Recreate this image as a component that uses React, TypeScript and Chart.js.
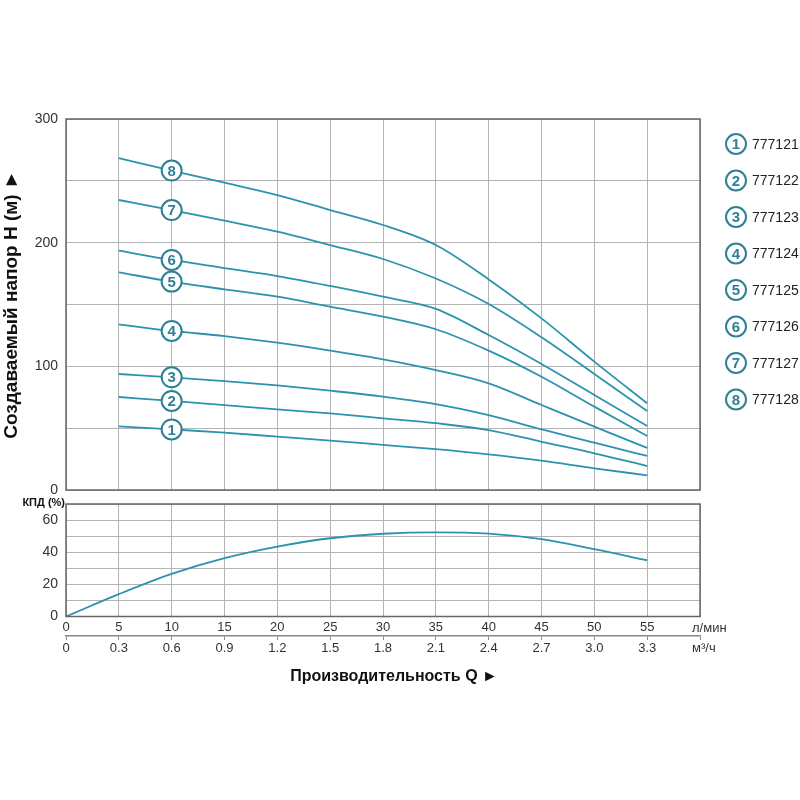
import React, { useEffect, useRef } from "react";
import { Chart, registerables } from "chart.js";

Chart.register(...registerables);

// ---- data ----
const flowLpm = [5, 10, 15, 20, 25, 30, 35, 40, 45, 50, 55];
const head777121 = [51.5, 49, 46.4, 43.1, 40, 36.5, 33, 28.8, 23.7, 17.5, 11.9];
const head777122 = [75.2, 72, 68.7, 65.2, 62, 58, 54, 48.5, 39, 29.7, 19.4];
const head777123 = [93.8, 91.1, 88.1, 84.6, 80.3, 75.5, 69.5, 60.6, 49, 38.3, 27.5];
const head777124 = [134, 128.6, 124.5, 119.1, 112.7, 105.7, 97, 86.3, 68.7, 51.2, 34];
const head777125 = [176, 168.5, 162.3, 156.3, 148.2, 140.2, 130, 112.7, 91.6, 67.4, 43.7];
const head777126 = [193.5, 186, 179.5, 173, 165, 156.3, 146.5, 125.3, 101.9, 76.8, 51.7];
const head777127 = [234.5, 226.4, 217.8, 208.9, 198.1, 186.8, 171, 150.4, 123.5, 93.8, 63.9];
const head777128 = [268.3, 258.3, 248.5, 238.5, 226.4, 214.3, 198.1, 170.3, 138.8, 103.8, 70.1];
const models = ["777121", "777122", "777123", "777124", "777125", "777126", "777127", "777128"];
const curveNumbers = ["1", "2", "3", "4", "5", "6", "7", "8"];
const heads = [head777121, head777122, head777123, head777124, head777125, head777126, head777127, head777128];
const markerFlow = 10;

const effFlow = [0, 5, 10, 15, 20, 25, 30, 35, 40, 45, 50, 55];
const efficiency = [0, 13.9, 26.5, 36.3, 43.5, 48.7, 51.5, 52.4, 51.6, 48.1, 41.9, 35];

const yTitle = "Создаваемый напор H (м) ►";
const xTitle = "Производительность Q ►";
const effTitle = "КПД (%)";
const unitLpm = "л/мин";
const unitM3h = "м³/ч";

// ---- styles ----
const FONT = "'Liberation Sans', Arial, sans-serif";
const LINE = "#2b93ad";
const MARK = "#2e8097";
const GRID = "#b4b4b4";
const BOX = "#666666";
const TXT = "#333333";

const boxPlugin = {
  id: "box",
  afterDraw(chart: any) {
    const { ctx, chartArea: a } = chart;
    ctx.save();
    ctx.strokeStyle = BOX;
    ctx.lineWidth = 1.5;
    ctx.strokeRect(a.left, a.top, a.right - a.left, a.bottom - a.top);
    ctx.restore();
  },
};

function drawCircleNum(ctx: CanvasRenderingContext2D, x: number, y: number, t: string) {
  ctx.beginPath();
  ctx.arc(x, y, 10, 0, Math.PI * 2);
  ctx.fillStyle = "#ffffff";
  ctx.fill();
  ctx.lineWidth = 2;
  ctx.strokeStyle = MARK;
  ctx.stroke();
  ctx.fillStyle = MARK;
  ctx.font = `bold 15px ${FONT}`;
  ctx.textAlign = "center";
  ctx.textBaseline = "middle";
  ctx.fillText(t, x, y + 1);
}

const markerPlugin = {
  id: "markers",
  afterDraw(chart: any) {
    const { ctx } = chart;
    const xs = chart.scales.x;
    const ys = chart.scales.y;
    const idx = flowLpm.indexOf(markerFlow);
    ctx.save();
    heads.forEach((h, i) => {
      const px = xs.getPixelForValue(markerFlow);
      const py = ys.getPixelForValue(h[idx]);
      drawCircleNum(ctx, px, py, curveNumbers[i]);
    });
    // legend
    models.forEach((m, i) => {
      const cy = 144 + i * 36.5;
      drawCircleNum(ctx, 736, cy, curveNumbers[i]);
      ctx.fillStyle = "#222";
      ctx.font = `14px ${FONT}`;
      ctx.textAlign = "left";
      ctx.textBaseline = "middle";
      ctx.fillText(m, 752, cy + 1);
    });
    ctx.restore();
  },
};

const bottomTextPlugin = {
  id: "bottomText",
  afterDraw(chart: any) {
    const { ctx } = chart;
    ctx.save();
    ctx.fillStyle = "#111";
    ctx.font = `bold 11px ${FONT}`;
    ctx.textAlign = "right";
    ctx.textBaseline = "middle";
    ctx.fillText(effTitle, 65, 503);
    ctx.fillStyle = TXT;
    ctx.font = `13px ${FONT}`;
    ctx.textAlign = "left";
    ctx.fillText(unitLpm, 692, 628);
    ctx.fillText(unitM3h, 692, 648);
    ctx.fillStyle = "#111";
    ctx.font = `bold 16px ${FONT}`;
    ctx.textAlign = "center";
    ctx.fillText(xTitle, 394, 677);
    ctx.restore();
  },
};

export default function App() {
  const topRef = useRef<HTMLCanvasElement>(null);
  const botRef = useRef<HTMLCanvasElement>(null);

  useEffect(() => {
    const top = new Chart(topRef.current as HTMLCanvasElement, {
      type: "line",
      data: {
        datasets: heads.map((h, i) => ({
          label: models[i],
          data: flowLpm.map((q, j) => ({ x: q, y: h[j] })),
          borderColor: LINE,
          borderWidth: 1.8,
          pointRadius: 0,
          cubicInterpolationMode: "monotone" as const,
          fill: false,
        })),
      },
      options: {
        responsive: false,
        animation: false,
        layout: { padding: { top: 119, right: 100, bottom: 310, left: 0 } },
        plugins: { legend: { display: false }, tooltip: { enabled: false } },
        scales: {
          x: {
            type: "linear",
            min: 0,
            max: 60,
            ticks: { display: false, stepSize: 5, autoSkip: false },
            grid: { color: GRID, drawTicks: false },
            border: { display: false },
            afterFit: (s: any) => {
              s.height = 0;
            },
          },
          y: {
            min: 0,
            max: 300,
            ticks: {
              stepSize: 50,
              autoSkip: false,
              padding: 8,
              color: TXT,
              font: { size: 14, family: FONT },
              callback: (v: any) => (v % 100 === 0 ? String(v) : ""),
            },
            grid: { color: GRID, drawTicks: false },
            border: { display: false },
            title: {
              display: true,
              text: yTitle,
              color: "#111",
              font: { size: 19, weight: "bold", family: FONT },
              padding: { top: 0, bottom: 0 },
            },
            afterFit: (s: any) => {
              s.width = 66;
            },
          },
        },
      },
      plugins: [boxPlugin, markerPlugin],
    } as any);

    const bot = new Chart(botRef.current as HTMLCanvasElement, {
      type: "line",
      data: {
        datasets: [
          {
            label: effTitle,
            data: effFlow.map((q, j) => ({ x: q, y: efficiency[j] })),
            borderColor: LINE,
            borderWidth: 1.8,
            pointRadius: 0,
            cubicInterpolationMode: "monotone" as const,
            fill: false,
            xAxisID: "x",
            yAxisID: "y",
          },
        ],
      },
      options: {
        responsive: false,
        animation: false,
        layout: { padding: { top: 504, right: 100, bottom: 140, left: 0 } },
        plugins: { legend: { display: false }, tooltip: { enabled: false } },
        scales: {
          x: {
            type: "linear",
            position: "bottom",
            min: 0,
            max: 60,
            ticks: {
              stepSize: 5,
              padding: 3,
              maxRotation: 0,
              autoSkip: false,
              color: TXT,
              font: { size: 13, family: FONT },
              callback: (v: any) => (v <= 55 ? String(v) : ""),
            },
            grid: { color: GRID, drawTicks: false },
            border: { display: false },
            afterFit: (s: any) => {
              s.height = 19.5;
            },
          },
          x2: {
            type: "linear",
            position: "bottom",
            min: 0,
            max: 3.6,
            ticks: {
              stepSize: 0.3,
              padding: 1,
              maxRotation: 0,
              autoSkip: false,
              color: TXT,
              font: { size: 13, family: FONT },
              callback: (v: any) => (v > 3.35 ? "" : v === 0 ? "0" : Number(v).toFixed(1)),
            },
            grid: { drawOnChartArea: false, tickLength: 4, color: "#888" },
            border: { display: true, color: "#888", width: 1.5 },
            afterFit: (s: any) => {
              s.height = 24;
            },
          },
          y: {
            min: 0,
            max: 70,
            ticks: {
              stepSize: 10,
              autoSkip: false,
              padding: 8,
              color: TXT,
              font: { size: 14, family: FONT },
              callback: (v: any) => (v % 20 === 0 && v <= 60 ? String(v) : ""),
            },
            grid: { color: GRID, drawTicks: false },
            border: { display: false },
            afterFit: (s: any) => {
              s.width = 66;
            },
          },
        },
      },
      plugins: [boxPlugin, bottomTextPlugin],
    } as any);

    return () => {
      top.destroy();
      bot.destroy();
    };
  }, []);

  return (
    <div style={{ position: "absolute", left: 0, top: 0, width: 800, height: 800, background: "#fff" }}>
      <canvas ref={topRef} width={800} height={800} style={{ position: "absolute", left: 0, top: 0 }} />
      <canvas ref={botRef} width={800} height={800} style={{ position: "absolute", left: 0, top: 0 }} />
    </div>
  );
}
